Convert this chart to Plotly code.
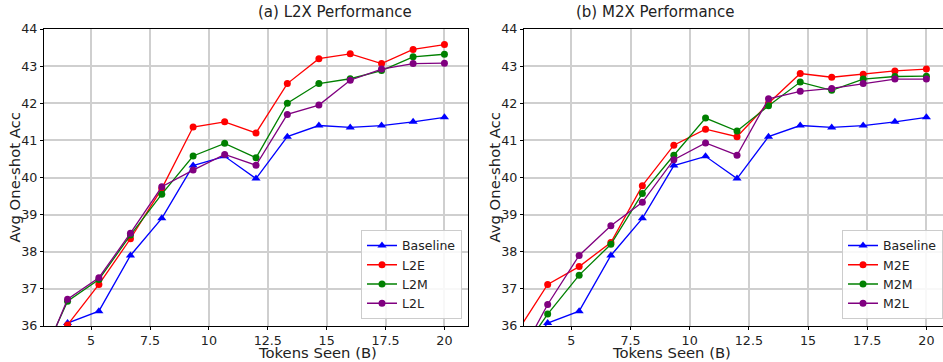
import plotly.graph_objects as go

tokens = [2.67, 4.0, 5.33, 6.67, 8.0, 9.33, 10.67, 12.0, 13.33, 14.67, 16.0, 17.33, 18.67, 20.0]

baseline = [35.0, 36.08, 36.40, 37.90, 38.90, 40.32, 40.57, 39.97, 41.10, 41.40, 41.35, 41.40, 41.50, 41.62]

l2e = [35.0, 36.03, 37.12, 38.35, 39.70, 41.36, 41.50, 41.20, 42.53, 43.20, 43.33, 43.07, 43.45, 43.58]
l2m = [34.8, 36.67, 37.25, 38.45, 39.55, 40.58, 40.92, 40.53, 42.00, 42.53, 42.66, 42.88, 43.25, 43.32]
l2l = [34.7, 36.72, 37.30, 38.50, 39.75, 40.20, 40.62, 40.33, 41.70, 41.95, 42.62, 42.92, 43.07, 43.08]

m2e = [35.8, 37.12, 37.60, 38.25, 39.78, 40.87, 41.30, 41.10, 42.00, 42.80, 42.70, 42.78, 42.87, 42.92]
m2m = [35.1, 36.32, 37.37, 38.20, 39.57, 40.60, 41.60, 41.25, 41.93, 42.57, 42.35, 42.65, 42.72, 42.73]
m2l = [35.0, 36.58, 37.90, 38.70, 39.33, 40.48, 40.93, 40.60, 42.12, 42.32, 42.40, 42.53, 42.65, 42.65]

x_ticks = [5, 7.5, 10, 12.5, 15, 17.5, 20]
x_tick_labels = ["5", "7.5", "10", "12.5", "15", "17.5", "20"]
y_ticks = [36, 37, 38, 39, 40, 41, 42, 43, 44]

titles = ["(a) L2X Performance", "(b) M2X Performance"]
colors = {"Baseline": "blue", "E": "red", "M": "green", "L": "purple"}

FONT = "DejaVu Sans"
W, H = 943, 362
TOP, BOT = 29, 36
fig = go.Figure()

panels = [
    ("x", "y", "legend", [("Baseline", baseline, "Baseline"), ("L2E", l2e, "E"), ("L2M", l2m, "M"), ("L2L", l2l, "L")]),
    ("x2", "y2", "legend2", [("Baseline", baseline, "Baseline"), ("M2E", m2e, "E"), ("M2M", m2m, "M"), ("M2L", m2l, "L")]),
]
for xa, ya, lg, series in panels:
    for name, vals, key in series:
        fig.add_trace(go.Scatter(
            x=tokens, y=vals, name=name, mode="lines+markers",
            xaxis=xa, yaxis=ya, legend=lg,
            line=dict(color=colors[key], width=1.3),
            marker=dict(color=colors[key], size=7 if key != "Baseline" else 8,
                        symbol="triangle-up" if key == "Baseline" else "circle"),
        ))

dom1 = [44 / W, 468 / W]
dom2 = [524 / W, 1.0]

axis_common = dict(
    showline=True, linecolor="black", linewidth=1, mirror=True,
    ticks="outside", ticklen=3, tickcolor="black", tickwidth=1,
    showgrid=True, gridcolor="#cfcfcf", gridwidth=1.5,
    zeroline=False, tickfont=dict(family=FONT, size=12.7, color="#222"),
)
fig.update_layout(
    width=W, height=H, plot_bgcolor="white", paper_bgcolor="white",
    margin=dict(l=0, r=0, t=TOP, b=BOT),
    font=dict(family=FONT, color="#222"),
    xaxis=dict(domain=dom1, range=[3, 21], tickvals=x_ticks, ticktext=x_tick_labels, anchor="y",
               ticklabelstandoff=0, **axis_common),
    yaxis=dict(domain=[0, 1], range=[36, 44], tickvals=y_ticks, anchor="x", **axis_common),
    xaxis2=dict(domain=dom2, range=[3, 3 + (W - 524) / 23.67], tickvals=x_ticks, ticktext=x_tick_labels, anchor="y2",
                ticklabelstandoff=0, **axis_common),
    yaxis2=dict(domain=[0, 1], range=[36, 44], tickvals=y_ticks, anchor="x2", **axis_common),
    legend=dict(x=462 / W, xanchor="right", y=0.024, yanchor="bottom", xref="paper",
                bgcolor="rgba(255,255,255,0.85)", bordercolor="#cccccc", borderwidth=1,
                font=dict(family=FONT, size=12.5, color="#222"), itemwidth=30, tracegroupgap=0),
    legend2=dict(x=1.0, xanchor="right", y=0.024, yanchor="bottom", xref="paper",
                 bgcolor="rgba(255,255,255,0.85)", bordercolor="#cccccc", borderwidth=1,
                 font=dict(family=FONT, size=12.5, color="#222"), itemwidth=30, tracegroupgap=0),
    showlegend=True,
)

ann = []
ann.append(dict(text=titles[0], x=256 / W, y=1, xref="paper", yref="paper", yanchor="middle", yshift=17,
                showarrow=False, font=dict(family=FONT, size=15, color="#222")))
ann.append(dict(text=titles[1], x=737 / W, y=1, xref="paper", yref="paper", yanchor="middle", yshift=17,
                showarrow=False, font=dict(family=FONT, size=15, color="#222")))
for cx in [256, 733]:
    ann.append(dict(text="Tokens Seen (B)", x=cx / W, y=0, xref="paper", yref="paper",
                    yanchor="bottom", yshift=-36.5, showarrow=False, font=dict(family=FONT, size=14.8, color="#222")))
for lx in [14, 494]:
    ann.append(dict(text="Avg One-shot Acc", x=lx / W, y=0.5, xref="paper", yref="paper", textangle=-90,
                    xanchor="center", yanchor="middle", showarrow=False, font=dict(family=FONT, size=14.8, color="#222")))
fig.update_layout(annotations=ann)

fig.write_html("out.html", config={"displayModeBar": False},
               post_script="document.body.style.margin='0';document.body.style.overflow='hidden';")
